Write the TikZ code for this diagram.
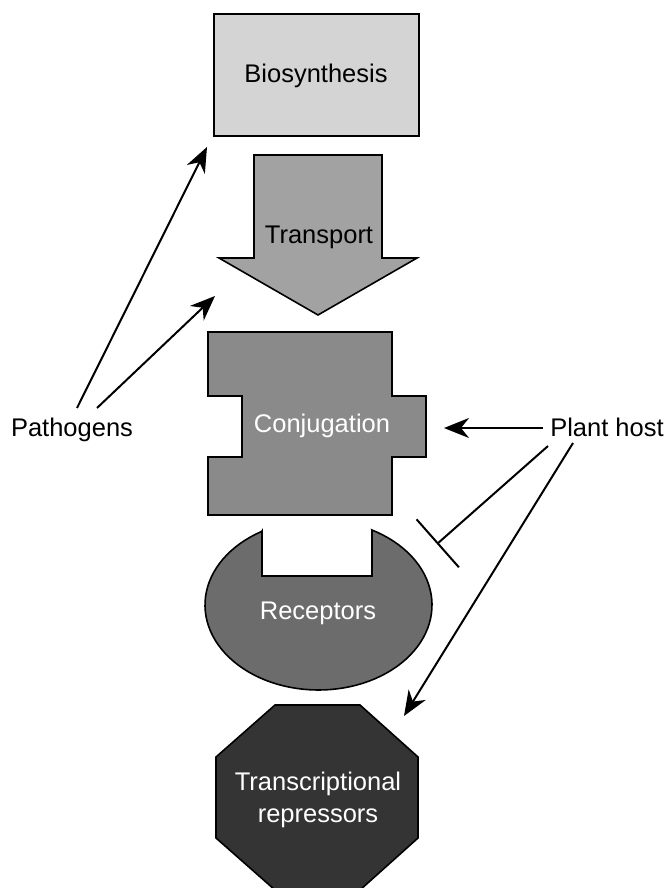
\documentclass[tikz,border=0pt]{standalone}
\usepackage{fontspec}
\setmainfont{Liberation Sans}
\usetikzlibrary{arrows.meta}
\definecolor{biofill}{HTML}{D4D4D4}
\definecolor{transfill}{HTML}{A2A2A2}
\definecolor{conjfill}{HTML}{8A8A8A}
\definecolor{recfill}{HTML}{6C6C6C}
\definecolor{octfill}{HTML}{343434}
\begin{document}
\begin{tikzpicture}[x=1pt,y=-1pt,
  lbl/.style={font=\fontsize{25.5}{32}\selectfont, inner sep=0pt},
  blk/.style={draw=black, line width=1.6pt, line join=miter},
  conn/.style={line width=2pt, -{Stealth[length=25pt,width=20pt,inset=8pt]}},
  inhib/.style={line width=2pt, -{Bar[width=64pt,line width=2pt]}},
]
\useasboundingbox (0,0) rectangle (671,888);
% Biosynthesis
\draw[blk, fill=biofill] (214,14) rectangle (419,136);
\node[lbl, anchor=base] (bio) at (316,83) {Biosynthesis};
% Transport
\draw[blk, fill=transfill] (254,155) -- (382,155) -- (382,258) -- (417,258) -- (318,315) -- (219,258) -- (254,258) -- cycle;
\node[lbl, anchor=base] (transport) at (319,243) {Transport};
% Conjugation
\draw[blk, fill=conjfill] (208,332) -- (392,332) -- (392,396) -- (426,396) -- (426,457) -- (392,457) -- (392,515) -- (208,515) -- (208,457) -- (242,457) -- (242,396) -- (208,396) -- cycle;
\node[lbl, anchor=base, text=white] (conj) at (322,432) {Conjugation};
% Receptors
\draw[blk, fill=recfill] (262,531) -- (262,576) -- (372,576) -- (372,531)
  -- plot[domain=-62:240, samples=90] ({318.5+113.5*cos(\x)},{605+85*sin(\x)}) -- cycle;
\node[lbl, anchor=base, text=white] (rec) at (318,619) {Receptors};
% Transcriptional repressors
\draw[blk, fill=octfill] (275,705) -- (360,705) -- (418,757) -- (418,838) -- (360,890) -- (275,890) -- (216,838) -- (216,757) -- cycle;
\node[lbl, align=center, text=white] (tr) at (318,800) {Transcriptional\\repressors};
% Labels
\node[lbl, anchor=base] (pat) at (72,436) {Pathogens};
\node[lbl, anchor=base] (plant) at (607,436) {Plant host};
% Connector endpoints
\coordinate (patA) at (77,408);
\coordinate (patB) at (97,408);
\coordinate (bioIn) at (207,147);
\coordinate (trIn) at (215,296);
\coordinate (plA) at (543,428);
\coordinate (conjIn) at (444,428);
\coordinate (plB) at (548,446);
\coordinate (recIn) at (437,544);
\coordinate (plC) at (573,443);
\coordinate (octIn) at (404,716);
% Connectors
\draw[conn] (patA) -- (bioIn);
\draw[conn] (patB) -- (trIn);
\draw[conn] (plA) -- (conjIn);
\draw[inhib] (plB) -- (recIn);
\draw[conn] (plC) -- (octIn);
\end{tikzpicture}
\end{document}
